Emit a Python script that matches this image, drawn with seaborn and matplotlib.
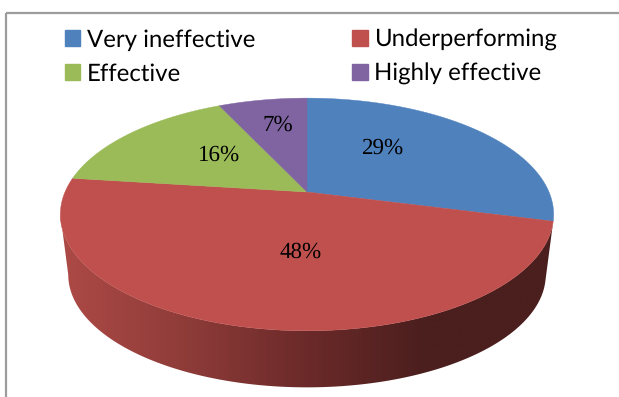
import numpy as np
import matplotlib
matplotlib.use("Agg")
import matplotlib.pyplot as plt
from matplotlib.patches import Patch, Polygon, Rectangle
from matplotlib.colors import LinearSegmentedColormap
import seaborn as sns

# Survey shares, in percent
categories = ["Very ineffective", "Underperforming", "Effective", "Highly effective"]
shares = [29, 48, 16, 7]
slice_colors = ["#4F81BD", "#C0504D", "#9BBB59", "#8064A2"]

sns.set_theme(style="white")
plt.rcParams["text.hinting"] = "no_hinting"
plt.rcParams["text.hinting_factor"] = 1
palette = sns.color_palette(slice_colors)

# Tilted-disc projection, in figure pixels
CX, CY = 307.0, 192.0
RX, RY = 242.0, 112.0
TILT = 0.193
RIM_SCALE, RIM_DROP = 0.968, 61.0


def project(theta, radius=1.0):
    """Map a clockwise-from-north angle on the disc to the top face."""
    u, v = radius * np.sin(theta), radius * np.cos(theta)
    den = 1 + TILT * v
    return CX + RX * u / den, CY - RY * v / den


def drop_to_rim(x, y):
    """Push a top-face point down onto the lower edge of the disc."""
    return CX + (x - CX) * RIM_SCALE, CY + (y - CY) * RIM_SCALE + RIM_DROP


fig = plt.figure(figsize=(6.19, 3.97), dpi=100)
ax = fig.add_axes([0, 0, 1, 1])

# Chart frame, running off the right and bottom edges
ax.add_patch(Rectangle((6, 13), 640, 420, fill=False, ec="#9C9C9C", lw=1.6))

edges = np.radians(np.cumsum([0] + shares) * 3.6)

# Side wall runs round the front of the disc to its left-most point,
# where the projected outline turns back; shaded left to right
wall_cmap = LinearSegmentedColormap.from_list(
    "wall",
    [(0.0, "#AD4A46"), (0.25, "#8F3C39"), (0.5, "#6B2A29"), (0.74, "#4B1F1E"), (1.0, "#4B1F1E")],
)
wall_end = 2 * np.pi - np.arccos(-TILT)
wall_angles = np.linspace(edges[1], wall_end, 241)
top_x, top_y = project(wall_angles)
rim_x, rim_y = drop_to_rim(top_x, top_y)
wall_outline = Polygon(
    np.c_[np.r_[top_x, rim_x[::-1]], np.r_[top_y, rim_y[::-1]]],
    closed=True, fc="none", ec="none", transform=ax.transData,
)
ax.add_patch(wall_outline)
shade = ax.imshow(
    np.linspace(0, 1, 512)[None, :], cmap=wall_cmap, aspect="auto",
    extent=(top_x.min(), top_x.max(), 397, 0), zorder=2, interpolation="bilinear",
)
shade.set_clip_path(wall_outline)

# Top face
for start, stop, color in zip(edges[:-1], edges[1:], palette):
    arc = np.linspace(start, stop, 200)
    xs, ys = project(arc)
    ax.fill(np.r_[CX, xs], np.r_[CY, ys], color=color, lw=0.3, zorder=3)

# Percentage labels
label_positions = [(383, 148), (301, 252), (219, 155), (278, 125)]
for share, (lx, ly) in zip(shares, label_positions):
    ax.text(lx, ly, f"{share}%", ha="center", va="center", color="black",
            family="Liberation Serif", fontsize=16.5, zorder=4)

# Legend, filled row by row
handles = [Patch(color=c, label=n) for n, c in zip(categories, palette)]
order = [0, 2, 1, 3]
ax.legend(
    [handles[i] for i in order], [categories[i] for i in order],
    ncol=2, loc="upper left", bbox_to_anchor=(65, 29), bbox_transform=ax.transData,
    frameon=False, borderpad=0, borderaxespad=0,
    handlelength=0.62, handleheight=0.62, handletextpad=0.28,
    columnspacing=4.0, labelspacing=0.5,
    prop={"family": "Lato", "size": 17.5}, labelcolor="black",
)

ax.set_xlim(0, 619)
ax.set_ylim(397, 0)
ax.axis("off")

fig.savefig("out.png", dpi=100, facecolor="white")
